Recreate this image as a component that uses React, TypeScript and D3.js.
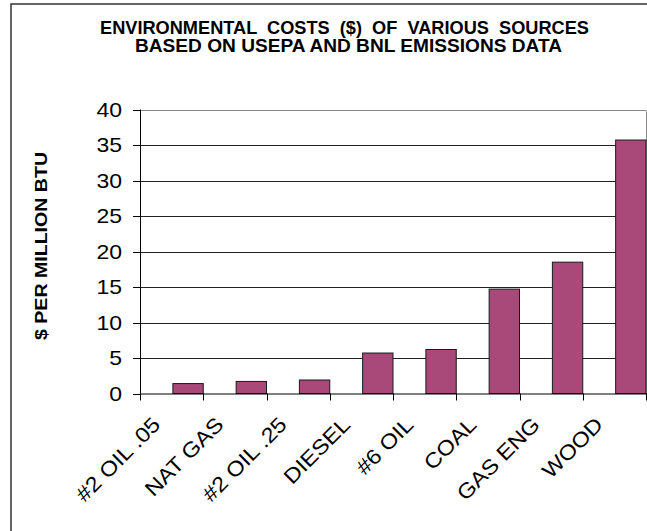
import React from "react";
import * as d3 from "d3";

// Environmental cost per source, $ per million BTU
const categories = ["#2 OIL .05", "NAT GAS", "#2 OIL .25", "DIESEL", "#6 OIL", "COAL", "GAS ENG", "WOOD"];
const costs = [1.4, 1.7, 1.9, 5.7, 6.2, 14.7, 18.5, 35.7];
const yTicks = [0, 5, 10, 15, 20, 25, 30, 35, 40];
const titleLines = ["ENVIRONMENTAL  COSTS  ($)  OF  VARIOUS  SOURCES", "BASED ON USEPA AND BNL EMISSIONS DATA"];
const yAxisTitle = "$ PER MILLION BTU";

const W = 647;
const H = 531;
const plot = { left: 140, right: 646, top: 109.5, bottom: 393.5 };
const BAR_FILL = "#A8497A";
const FONT = "Arial, 'Liberation Sans', Helvetica, sans-serif";

export default function App() {
  const x = d3.scaleBand<string>().domain(categories).range([plot.left, plot.right]).padding(0);
  const y = d3.scaleLinear().domain([0, 40]).range([plot.bottom, plot.top]);
  const step = x.step();

  return (
    <svg
      width={W}
      height={H}
      style={{ position: "absolute", left: 0, top: 0, background: "#fff" }}
      fontFamily={FONT}
    >
      {/* outer chart frame */}
      <rect x={11} y={4} width={700} height={600} fill="#fff" stroke="#333" strokeWidth={1.5} />

      {/* title */}
      <text x={344.5} y={34} textAnchor="middle" fontSize={18} fontWeight="bold" textLength={489} lengthAdjust="spacingAndGlyphs" style={{ whiteSpace: "pre" }}>
        {titleLines[0]}
      </text>
      <text x={348.5} y={52} textAnchor="middle" fontSize={18} fontWeight="bold" textLength={427} lengthAdjust="spacingAndGlyphs">
        {titleLines[1]}
      </text>

      {/* gridlines */}
      {yTicks.filter((t) => t > 0).map((t) => (
        <line
          key={`g${t}`}
          x1={plot.left}
          x2={plot.right}
          y1={Math.round(y(t)) + 0.5}
          y2={Math.round(y(t)) + 0.5}
          stroke={t === 40 ? "#8a8a8a" : "#222"}
          strokeWidth={1}
        />
      ))}
      {/* plot area right edge */}
      <line x1={plot.right + 0.5} x2={plot.right + 0.5} y1={Math.round(y(40)) + 0.5} y2={plot.bottom} stroke="#8a8a8a" />

      {/* bars */}
      {categories.map((c, i) => {
        const x0 = (x(c) ?? 0) + step * 0.52;
        const yTop = y(costs[i]);
        return (
          <rect
            key={c}
            x={x0}
            y={yTop}
            width={step * 0.48}
            height={y(0) - yTop}
            fill={BAR_FILL}
            stroke="#1a1a1a"
            strokeWidth={1}
          />
        );
      })}

      {/* y axis */}
      <line x1={plot.left + 0.5} x2={plot.left + 0.5} y1={plot.top} y2={plot.bottom} stroke="#000" />
      {yTicks.map((t) => (
        <g key={`t${t}`}>
          <line x1={plot.left - 7} x2={plot.left} y1={Math.round(y(t)) + 0.5} y2={Math.round(y(t)) + 0.5} stroke="#000" />
          <text transform={`translate(122 ${y(t) + 7}) scale(1.15 1)`} textAnchor="end" fontSize={20} fill="#000">
            {t}
          </text>
        </g>
      ))}

      {/* x axis */}
      <line x1={plot.left} x2={plot.right + 1} y1={plot.bottom + 0.5} y2={plot.bottom + 0.5} stroke="#000" />
      {d3.range(categories.length + 1).map((i) => {
        const xx = Math.round(plot.left + i * step) + 0.5;
        return <line key={`xt${i}`} x1={xx} x2={xx} y1={plot.bottom} y2={plot.bottom + 7} stroke="#000" />;
      })}
      {categories.map((c) => {
        const cx = (x(c) ?? 0) + step / 2 - 10;
        const cy = 426;
        return (
          <text key={`l${c}`} textAnchor="end" fontSize={21} transform={`translate(${cx} ${cy}) rotate(-45) scale(1.12 1)`}>
            {c}
          </text>
        );
      })}

      {/* y axis title */}
      <text
        x={0}
        y={0}
        textAnchor="middle"
        fontSize={17}
        fontWeight="bold"
        textLength={188}
        lengthAdjust="spacingAndGlyphs"
        transform={`translate(47 246) rotate(-90)`}
      >
        {yAxisTitle}
      </text>
    </svg>
  );
}
